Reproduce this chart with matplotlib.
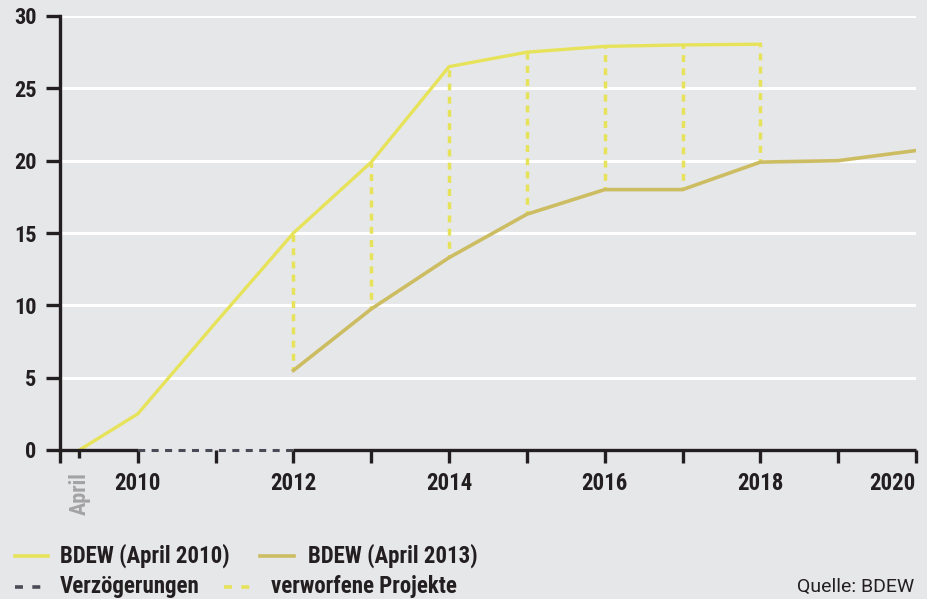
import matplotlib
matplotlib.use("Agg")
import matplotlib.pyplot as plt
from matplotlib.lines import Line2D

plt.rcParams["font.family"] = ["Roboto Condensed", "DejaVu Sans"]

# Prognosen Offshore-Wind (GW)
jahre_2010 = [2009.25, 2010, 2011, 2012, 2013, 2014, 2015, 2016, 2017, 2018]
werte_2010 = [0, 2.5, 8.8, 15.0, 19.9, 26.5, 27.5, 27.9, 28.0, 28.05]

jahre_2013 = [2012, 2013, 2014, 2015, 2016, 2017, 2018, 2019, 2020]
werte_2013 = [5.5, 9.75, 13.3, 16.3, 18.0, 18.0, 19.9, 20.0, 20.7]

verzoegerung = [2010, 2012]          # Zeitraum der Verzoegerungen
verworfen = [2012, 2013, 2014, 2015, 2016, 2017, 2018]

x_ticks = list(range(2009, 2021))
x_labels = ["" if j % 2 or j == 2009 else str(j) for j in x_ticks]
y_ticks = [0, 5, 10, 15, 20, 25, 30]

hinter = "#e6e7e9"
gelb = "#e6e35b"
oliv = "#cdbd62"
dunkel = "#231f20"
grau_dash = "#4b4b57"

fig = plt.figure(figsize=(9.28, 5.99), dpi=100, facecolor=hinter)
ax = fig.add_axes([60 / 928, 149 / 599, 856 / 928, 434 / 599], facecolor=hinter)

ax.set_xlim(2009, 2020)
ax.set_ylim(0, 30)

for y in y_ticks[1:]:
    ax.axhline(y, color="white", lw=2.2, zorder=1)

# gestrichelte Verbindungen: verworfene Projekte
for j in verworfen:
    o = werte_2010[jahre_2010.index(j)]
    u = werte_2013[jahre_2013.index(j)]
    ax.plot([j, j], [u, o], color=gelb, lw=2.5, ls=(1, (2.0, 1.8)), zorder=2)

ax.plot(jahre_2010, werte_2010, color=gelb, lw=2.4, zorder=3)
ax.plot(jahre_2013, werte_2013, color=oliv, lw=2.6, zorder=3)

# x-Achse: durchgezogen, im Verzoegerungszeitraum gestrichelt
ax.plot([2009, verzoegerung[0]], [0, 0], color=dunkel, lw=2.4, clip_on=False, zorder=4,
        solid_capstyle="butt")
ax.plot(verzoegerung, [0, 0], color=grau_dash, lw=2.2, ls=(4.5, (2.3, 2.1)), clip_on=False,
        zorder=4)
ax.plot([verzoegerung[1], 2020], [0, 0], color=dunkel, lw=2.4, clip_on=False, zorder=4,
        solid_capstyle="butt")

for s in ["top", "right", "bottom"]:
    ax.spines[s].set_visible(False)
ax.spines["left"].set_color(dunkel)
ax.spines["left"].set_linewidth(2.4)

ax.set_yticks(y_ticks)
ax.set_yticklabels([str(y) for y in y_ticks])
ax.tick_params(axis="y", direction="out", length=10, width=2.4, color=dunkel, pad=7,
               labelsize=16, labelcolor=dunkel)
ax.set_xticks(x_ticks)
ax.set_xticklabels(x_labels)
ax.set_xticks([2009.25], minor=True)
ax.tick_params(axis="x", which="major", direction="out", length=9.5, width=2.4, color=dunkel,
               pad=6, labelsize=16.5, labelcolor=dunkel)
ax.tick_params(axis="x", which="minor", direction="out", length=6, width=2.4, color=dunkel)
for lab in ax.get_xticklabels() + ax.get_yticklabels():
    lab.set_fontweight("bold")
ax.get_xticklabels()[-1].set_horizontalalignment("right")

ax.text(2009.25, -1.5, "April", rotation=90, ha="center", va="top", fontsize=16,
        fontweight="bold", color="#a3a3a5")

# Legende
def muster(x0, x1, y, farbe, ls="-"):
    fig.add_artist(Line2D([x0 / 928, x1 / 928], [y, y], color=farbe, lw=2.6, ls=ls))

def beschriftung(x, y, text, **kw):
    fig.text(x / 928, y, text, va="center", fontsize=16.5, fontweight="bold", color=dunkel, **kw)

r1, r2 = 1 - 556 / 599, 1 - 587 / 599
muster(15, 48, r1, gelb)
beschriftung(60, r1, "BDEW (April 2010)")
muster(260, 294, r1, oliv)
beschriftung(308, r1, "BDEW (April 2013)")
muster(15, 48, r2, grau_dash, ls=(0, (2.2, 2.6)))
beschriftung(60, r2, "Verzögerungen")
muster(224, 257, r2, gelb, ls=(0, (2.2, 2.6)))
beschriftung(271, r2, "verworfene Projekte")
fig.text(914 / 928, r2, "Quelle: BDEW", ha="right", va="center", fontsize=14, color=dunkel,
         family=["Roboto", "DejaVu Sans"])

fig.savefig("out.png", dpi=100, facecolor=hinter)
